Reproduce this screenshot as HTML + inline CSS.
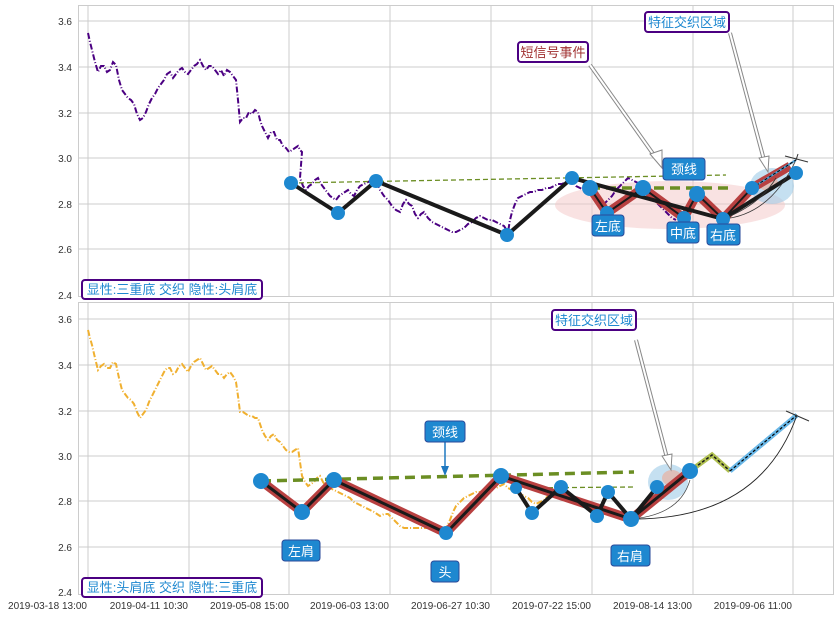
<!DOCTYPE html>
<html><head><meta charset="utf-8"><style>
body{margin:0;background:#fff;}
svg{display:block;font-family:"Liberation Sans","Noto Sans CJK SC",sans-serif;}
</style></head><body>
<svg width="839" height="617" viewBox="0 0 839 617" xmlns="http://www.w3.org/2000/svg">
<g stroke="#ccc" stroke-width="1" fill="none">
<rect x="78.5" y="5.5" width="755" height="291"/>
<rect x="78.5" y="302.5" width="755" height="292"/>
<path d="M78 21H833M78 67H833M78 113H833M78 158H833M78 204H833M78 249H833"/>
<path d="M78 319H833M78 365H833M78 411H833M78 456H833M78 501H833M78 547H833"/>
<path d="M88 5V296M189 5V296M289 5V296M390 5V296M491 5V296M592 5V296M693 5V296M793 5V296"/>
<path d="M88 302V594M189 302V594M289 302V594M390 302V594M491 302V594M592 302V594M693 302V594M793 302V594"/>
</g>
<g font-size="10" fill="#333" text-anchor="end">
<text x="72" y="25">3.6</text><text x="72" y="71">3.4</text><text x="72" y="117">3.2</text><text x="72" y="162">3.0</text><text x="72" y="208">2.8</text><text x="72" y="253">2.6</text><text x="72" y="299">2.4</text>
<text x="72" y="323">3.6</text><text x="72" y="369">3.4</text><text x="72" y="415">3.2</text><text x="72" y="460">3.0</text><text x="72" y="505">2.8</text><text x="72" y="551">2.6</text><text x="72" y="596">2.4</text>
<text x="87" y="609">2019-03-18 13:00</text><text x="188" y="609">2019-04-11 10:30</text><text x="289" y="609">2019-05-08 15:00</text><text x="389" y="609">2019-06-03 13:00</text><text x="490" y="609">2019-06-27 10:30</text><text x="591" y="609">2019-07-22 15:00</text><text x="692" y="609">2019-08-14 13:00</text><text x="792" y="609">2019-09-06 11:00</text>
</g>
<!-- TOP -->
<ellipse cx="670" cy="205" rx="115" ry="24" fill="#f4c6c6" opacity="0.5"/>
<ellipse cx="772" cy="186" rx="22" ry="18" fill="#9fcbe8" opacity="0.6"/>
<ellipse cx="768" cy="183" rx="10" ry="8" fill="#e8b0a0" opacity="0.7"/>
<polyline fill="none" stroke="#4b0082" stroke-width="2" stroke-dasharray="6,2,1,2" points="88,33 90,42 92,50 95,62 98,72 101,66 104,66 107,72 110,70 113,62 116,65 119,80 122,90 125,94 128,98 131,100 134,104 137,114 140,120 143,118 146,112 149,104 152,98 155,94 158,88 161,84 164,80 167,74 170,72 173,78 176,74 179,70 182,68 185,72 188,74 191,70 194,66 197,64 200,60 203,66 206,70 209,66 212,66 215,70 218,74 221,70 224,76 227,70 230,72 233,76 236,80 238,100 240,122 243,118 246,118 249,112 252,114 255,110 258,112 260,120 262,126 265,132 268,138 271,132 274,132 277,140 280,140 283,146 286,148 289,152 292,150 295,148 298,146 300,150 302,152 300,178 303,186 306,190 309,186 312,184 315,180 318,178 321,184 324,188 327,192 330,196 333,198 336,200 339,196 342,194 345,192 348,190 351,194 354,196 357,190 360,186 364,184 368,182 372,180 376,181 380,190 384,196 388,200 392,206 396,210 400,212 403,204 406,200 409,204 412,206 415,214 418,218 421,214 424,212 428,218 432,222 436,224 440,226 444,228 448,230 452,232 456,232 460,230 464,228 468,224 472,222 476,218 480,216 484,218 488,220 492,220 496,222 500,224 504,226 508,232 510,220 512,212 515,204 518,198 522,196 526,194 530,192 534,192 538,190 542,190 546,188 550,188 554,186 558,184 562,184 566,182 570,180 572,180 576,186 580,188 584,190 588,192 592,196 596,200 600,204 604,204 608,200 612,196 616,190 620,186 624,182 628,178 632,180 636,182 640,184 644,186 648,192 652,198 656,202 660,206 664,210 668,214 672,218 676,220"/>
<line x1="291" y1="183" x2="726" y2="175" stroke="#6b8e23" stroke-width="1.3" stroke-dasharray="5,3"/>
<line x1="590" y1="188" x2="728" y2="188" stroke="#6b8e23" stroke-width="3.5" stroke-dasharray="10,6"/>
<polyline fill="none" stroke="#b84040" stroke-width="9" stroke-linejoin="round" points="590,188 607,213 643,188 684,218 697,194 723,219 752,188 790,166"/>
<polyline fill="none" stroke="#1a1a1a" stroke-width="4" stroke-linejoin="round" points="291,183 338,213 376,181 507,235 572,178 723,219 796,173"/>
<polyline fill="none" stroke="#1a1a1a" stroke-width="2" points="590,188 607,213 643,188 684,218 697,194 723,219 752,188"/>
<path d="M723,219 Q770,215 796,160" fill="none" stroke="#333" stroke-width="0.8"/>
<path d="M723,219 Q760,205 776,178" fill="none" stroke="#333" stroke-width="0.8"/>
<line x1="752" y1="188" x2="796" y2="160" stroke="#4aa0d8" stroke-width="2"/>
<line x1="752" y1="188" x2="796" y2="160" stroke="#000" stroke-width="1" stroke-dasharray="3,2"/>
<path d="M785,156 L808,162 M796,160 L798,154" stroke="#333" stroke-width="1"/>
<g fill="#1e88d0">
<circle cx="291" cy="183" r="7"/><circle cx="338" cy="213" r="7"/><circle cx="376" cy="181" r="7"/><circle cx="507" cy="235" r="7"/><circle cx="572" cy="178" r="7"/><circle cx="590" cy="188" r="8"/><circle cx="607" cy="213" r="7"/><circle cx="643" cy="188" r="8"/><circle cx="684" cy="218" r="7"/><circle cx="697" cy="194" r="8"/><circle cx="723" cy="219" r="7"/><circle cx="752" cy="188" r="7"/><circle cx="796" cy="173" r="7"/>
</g>
<path d="M590,65 L656,158" stroke="#888" stroke-width="4"/>
<path d="M590,65 L656,158" stroke="#fff" stroke-width="2"/>
<path d="M650,154 L662,168 L662,150Z" fill="#fff" stroke="#888"/>
<path d="M730,33 L764,160" stroke="#888" stroke-width="4"/>
<path d="M730,33 L764,160" stroke="#fff" stroke-width="2"/>
<path d="M759,158 L768,172 L769,156Z" fill="#fff" stroke="#888"/>
<g font-size="13">
<rect x="518" y="42" width="70" height="20" rx="3" fill="#fff" stroke="#4b0082" stroke-width="2"/><text x="553" y="57" text-anchor="middle" fill="#a03030">短信号事件</text>
<rect x="645" y="12" width="84" height="20" rx="3" fill="#fff" stroke="#4b0082" stroke-width="2"/><text x="687" y="27" text-anchor="middle" fill="#1e88d0">特征交织区域</text>
<rect x="663" y="158" width="42" height="22" rx="3" fill="#1e88d0" stroke="#2a4a9a"/><text x="684" y="174" text-anchor="middle" fill="#fff">颈线</text>
<rect x="592" y="215" width="32" height="21" rx="3" fill="#1e88d0" stroke="#2a4a9a"/><text x="608" y="231" text-anchor="middle" fill="#fff">左底</text>
<rect x="667" y="222" width="32" height="21" rx="3" fill="#1e88d0" stroke="#2a4a9a"/><text x="683" y="238" text-anchor="middle" fill="#fff">中底</text>
<rect x="707" y="224" width="33" height="21" rx="3" fill="#1e88d0" stroke="#2a4a9a"/><text x="723" y="240" text-anchor="middle" fill="#fff">右底</text>
<rect x="82" y="280" width="180" height="19" rx="3" fill="#fff" stroke="#4b0082" stroke-width="2"/><text x="172" y="294" text-anchor="middle" fill="#1e88d0">显性:三重底 交织 隐性:头肩底</text>
</g>
<!-- BOTTOM -->
<polyline fill="none" stroke="#f0b030" stroke-width="2" stroke-dasharray="6,2,1,2" points="88,330 90,338 92,345 95,358 98,370 101,366 104,364 107,368 110,368 113,362 116,364 119,378 122,390 125,394 128,398 131,400 134,404 137,412 140,418 143,414 146,410 149,402 152,396 155,390 158,384 161,378 164,372 167,368 170,368 173,374 176,372 179,366 182,364 185,368 188,372 191,366 194,362 197,360 200,358 203,364 206,370 209,368 212,366 215,370 218,374 221,374 224,378 227,374 230,372 233,376 236,382 238,396 240,412 243,412 246,414 249,416 252,416 255,418 258,418 260,424 262,430 265,436 268,440 271,436 274,434 277,440 280,442 283,446 286,450 289,452 292,452 295,450 298,448 300,462 302,476 305,482 308,486 311,484 314,482 317,478 320,476 323,482 326,486 330,488 334,490 338,492 342,494 346,496 350,498 354,502 358,504 362,506 366,508 370,510 374,512 377,514 380,516 384,514 388,514 392,518 396,522 400,526 404,528 408,528 412,528 416,528 420,528 424,528 428,528 432,530 436,530 440,532 444,532 447,526 450,520 453,512 456,506 460,502 464,498 468,496 472,494 476,492 480,492 484,490 488,490 492,488 496,488 500,486 504,484 508,488 512,490 516,492 520,494 524,496 528,498 532,502 536,504 540,502 544,500 548,496 552,494 556,492 560,490"/>
<line x1="261" y1="481" x2="634" y2="472" stroke="#6b8e23" stroke-width="3.5" stroke-dasharray="10,6"/>
<line x1="516" y1="488" x2="633" y2="487" stroke="#6b8e23" stroke-width="1.3" stroke-dasharray="5,3"/>
<ellipse cx="668" cy="482" rx="20" ry="18" fill="#9fcbe8" opacity="0.6"/>
<ellipse cx="672" cy="478" rx="10" ry="8" fill="#e8b0a0" opacity="0.7"/>
<polyline fill="none" stroke="#b84040" stroke-width="9" stroke-linejoin="round" points="261,481 302,512 334,480 446,533 501,476 631,519 690,471"/>
<polyline fill="none" stroke="#1a1a1a" stroke-width="3" stroke-linejoin="round" points="261,481 302,512 334,480 446,533 501,476 631,519 690,471"/>
<polyline fill="none" stroke="#1a1a1a" stroke-width="4" stroke-linejoin="round" points="516,488 532,513 561,487 597,516 608,492 631,519 657,487"/>
<polyline fill="none" stroke="#b0c050" stroke-width="5" points="690,471 712,455 730,471"/>
<polyline fill="none" stroke="#1a1a1a" stroke-width="1.5" stroke-dasharray="3,2" points="690,471 712,455 730,471"/>
<line x1="730" y1="471" x2="797" y2="415" stroke="#6ab8e8" stroke-width="5"/>
<line x1="730" y1="471" x2="797" y2="415" stroke="#000" stroke-width="1.2" stroke-dasharray="3,2"/>
<path d="M631,519 Q760,520 797,415" fill="none" stroke="#222" stroke-width="0.9"/>
<path d="M631,519 Q680,515 690,480" fill="none" stroke="#444" stroke-width="0.7"/>
<path d="M786,411 L809,421" stroke="#333" stroke-width="1"/>
<g fill="#1e88d0">
<circle cx="261" cy="481" r="8"/><circle cx="302" cy="512" r="8"/><circle cx="334" cy="480" r="8"/><circle cx="446" cy="533" r="7"/><circle cx="501" cy="476" r="8"/><circle cx="516" cy="488" r="6"/><circle cx="532" cy="513" r="7"/><circle cx="561" cy="487" r="7"/><circle cx="597" cy="516" r="7"/><circle cx="608" cy="492" r="7"/><circle cx="631" cy="519" r="8"/><circle cx="657" cy="487" r="7"/><circle cx="690" cy="471" r="8"/>
</g>
<path d="M636,340 L667,458" stroke="#888" stroke-width="4"/>
<path d="M636,340 L667,458" stroke="#fff" stroke-width="2"/>
<path d="M662,456 L671,470 L672,454Z" fill="#fff" stroke="#888"/>
<line x1="445" y1="442" x2="445" y2="470" stroke="#1e78c0" stroke-width="1.5"/>
<path d="M441,466 L445,476 L449,466Z" fill="#1e78c0"/>
<g font-size="13">
<rect x="552" y="310" width="84" height="20" rx="3" fill="#fff" stroke="#4b0082" stroke-width="2"/><text x="594" y="325" text-anchor="middle" fill="#1e88d0">特征交织区域</text>
<rect x="425" y="421" width="40" height="21" rx="3" fill="#1e88d0" stroke="#2a4a9a"/><text x="445" y="437" text-anchor="middle" fill="#fff">颈线</text>
<rect x="282" y="540" width="38" height="21" rx="3" fill="#1e88d0" stroke="#2a4a9a"/><text x="301" y="556" text-anchor="middle" fill="#fff">左肩</text>
<rect x="431" y="561" width="28" height="21" rx="3" fill="#1e88d0" stroke="#2a4a9a"/><text x="445" y="577" text-anchor="middle" fill="#fff">头</text>
<rect x="611" y="545" width="39" height="21" rx="3" fill="#1e88d0" stroke="#2a4a9a"/><text x="630" y="561" text-anchor="middle" fill="#fff">右肩</text>
<rect x="82" y="578" width="180" height="19" rx="3" fill="#fff" stroke="#4b0082" stroke-width="2"/><text x="172" y="592" text-anchor="middle" fill="#1e88d0">显性:头肩底 交织 隐性:三重底</text>
</g>
</svg>
</body></html>
